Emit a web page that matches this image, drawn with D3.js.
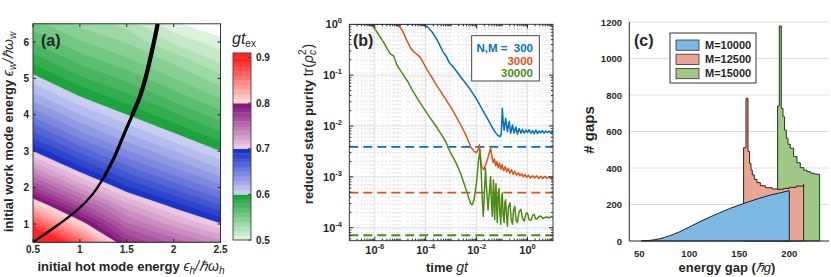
<!DOCTYPE html>
<html>
<head>
<meta charset="utf-8">
<script src="https://cdn.jsdelivr.net/npm/d3@7"></script>
<style>
  body { margin: 0; background: #fff; }
  svg { display: block; }
  text { font-family: "Liberation Sans", Arial, sans-serif; fill: #262626; }
</style>
</head>
<body>
<svg id="fig" width="831" height="277"></svg>
<script>
// ---------------- data: panel (a) ----------------
// gt_ex, rows = work-mode energy, columns = hot-mode energy
const hotEnergy = [0.5, 1.0, 1.5, 2.0, 2.5];
const workEnergy = [0.5, 1.0, 1.5, 2.0, 2.5, 3.0, 3.5, 4.0, 4.5, 5.0, 5.5, 6.0, 6.5];
const gtEx = [
  [0.946, 0.866, 0.781, 0.757, 0.733],
  [0.875, 0.808, 0.752, 0.725, 0.701],
  [0.818, 0.766, 0.724, 0.696, 0.671],
  [0.772, 0.728, 0.692, 0.667, 0.644],
  [0.733, 0.695, 0.665, 0.642, 0.621],
  [0.700, 0.667, 0.641, 0.620, 0.600],
  [0.672, 0.642, 0.619, 0.600, 0.581],
  [0.647, 0.620, 0.600, 0.582, 0.564],
  [0.624, 0.600, 0.583, 0.565, 0.548],
  [0.604, 0.582, 0.567, 0.550, 0.534],
  [0.586, 0.566, 0.552, 0.537, 0.517],
  [0.569, 0.551, 0.539, 0.518, 0.504],
  [0.554, 0.537, 0.526, 0.502, 0.489]
];
// black curve
const curveHot  = [0.5, 0.78, 0.98, 1.13, 1.26, 1.37, 1.46, 1.56, 1.64, 1.70, 1.79, 1.83];
const curveWork = [0.5, 1.0, 1.4, 1.8, 2.3, 2.85, 3.4, 4.0, 4.5, 5.0, 6.0, 6.5];
const hotTicks = [0.5, 1, 1.5, 2, 2.5];
const workTicks = [1, 2, 3, 4, 5, 6];
const cbTicks = [0.5, 0.6, 0.7, 0.8, 0.9];

// ---------------- data: panel (b) ----------------
// [log10 gt, log10 purity]
const purityN300 = [
  [-7, 0], [-4.3, 0], [-4.1, -0.01], [-3.95, -0.04], [-3.75, -0.15], [-3.55, -0.31], [-3.4, -0.46],
  [-3.3, -0.56], [-3.2, -0.62], [-3.09, -0.74], [-2.9, -0.85], [-2.63, -1.03], [-2.4, -1.18],
  [-2.24, -1.29], [-2.0, -1.47], [-1.84, -1.62], [-1.6, -1.83], [-1.45, -1.97], [-1.3, -2.1],
  [-1.18, -2.18], [-1.08, -2.21], [-1.03, -2.16], [-0.99, -1.65], [-0.96, -1.9], [-0.92, -2.08],
  [-0.86, -1.85], [-0.79, -2.11], [-0.72, -1.91], [-0.66, -2.14], [-0.59, -1.98], [-0.53, -2.14],
  [-0.46, -2.02], [-0.40, -2.16], [-0.33, -2.05], [-0.26, -2.14], [-0.2, -2.07], [-0.13, -2.14],
  [-0.06, -2.08], [0, -2.13], [0.06, -2.07], [0.13, -2.14], [0.2, -2.09], [0.26, -2.15],
  [0.33, -2.08], [0.39, -2.15], [0.46, -2.1], [0.52, -2.13], [0.58, -2.09], [0.65, -2.14],
  [0.72, -2.1], [0.79, -2.13], [0.86, -2.1], [0.92, -2.14], [0.98, -2.11], [1.04, -2.12]
];
const purityN3000 = [
  [-7, 0], [-5.2, 0], [-5.0, -0.06], [-4.87, -0.17], [-4.73, -0.33], [-4.6, -0.46], [-4.47, -0.54],
  [-4.34, -0.59], [-4.21, -0.65], [-4.08, -0.77], [-3.94, -0.9], [-3.81, -1.0], [-3.62, -1.16],
  [-3.4, -1.33], [-3.22, -1.47], [-3.0, -1.64], [-2.83, -1.79], [-2.6, -2.0], [-2.4, -2.2],
  [-2.24, -2.4], [-2.1, -2.5], [-2.0, -2.52], [-1.93, -2.45], [-1.89, -2.37], [-1.86, -2.55],
  [-1.8, -2.8], [-1.72, -2.86], [-1.6, -2.7], [-1.5, -2.52], [-1.45, -2.44], [-1.4, -2.6],
  [-1.35, -2.72], [-1.3, -2.65], [-1.25, -2.78], [-1.2, -2.7], [-1.15, -2.82], [-1.1, -2.73],
  [-1.05, -2.85], [-1.0, -2.76], [-0.94, -2.88], [-0.88, -2.8], [-0.82, -2.9], [-0.76, -2.83],
  [-0.7, -2.93], [-0.63, -2.86], [-0.56, -2.95], [-0.5, -2.89], [-0.43, -2.97], [-0.36, -2.92],
  [-0.3, -2.98], [-0.23, -2.94], [-0.16, -3.0], [-0.1, -2.95], [-0.03, -3.01], [0.04, -2.97],
  [0.12, -3.02], [0.2, -2.98], [0.28, -3.02], [0.36, -2.98], [0.44, -3.03], [0.52, -2.99],
  [0.6, -3.03], [0.68, -2.99], [0.76, -3.03], [0.84, -3.0], [0.92, -3.03], [1.0, -3.0], [1.04, -3.02]
];
const purityN30000 = [
  [-7, 0], [-6.3, 0], [-6.1, -0.03], [-5.98, -0.1], [-5.85, -0.2], [-5.72, -0.3], [-5.6, -0.4],
  [-5.52, -0.48], [-5.39, -0.58], [-5.26, -0.62], [-5.13, -0.8], [-5.0, -0.9], [-4.87, -1.0],
  [-4.7, -1.13], [-4.54, -1.28], [-4.3, -1.48], [-4.08, -1.65], [-3.88, -1.8], [-3.6, -2.0],
  [-3.42, -2.14], [-3.22, -2.3], [-3.03, -2.52], [-2.83, -2.7], [-2.63, -2.93], [-2.5, -3.12],
  [-2.37, -3.32], [-2.24, -3.52], [-2.17, -3.55], [-2.1, -3.45], [-2.0, -3.1], [-1.93, -2.7],
  [-1.87, -2.47], [-1.82, -2.9], [-1.77, -3.5], [-1.74, -3.78], [-1.7, -3.4], [-1.65, -2.83],
  [-1.6, -3.3], [-1.55, -3.65], [-1.5, -3.3], [-1.45, -3.0], [-1.41, -3.6], [-1.38, -3.78],
  [-1.34, -3.06], [-1.31, -3.5], [-1.29, -3.84], [-1.26, -3.3], [-1.24, -3.13], [-1.21, -3.6],
  [-1.19, -3.9], [-1.16, -3.4], [-1.12, -3.23], [-1.09, -3.7], [-1.05, -3.93], [-1.02, -3.4],
  [-0.99, -3.32], [-0.96, -3.75], [-0.92, -3.9], [-0.89, -3.5], [-0.86, -3.45], [-0.82, -3.8],
  [-0.79, -3.97], [-0.75, -3.6], [-0.69, -3.51], [-0.64, -3.85], [-0.59, -3.93], [-0.55, -3.65],
  [-0.5, -3.58], [-0.45, -3.85], [-0.4, -3.9], [-0.33, -3.68], [-0.26, -3.64], [-0.2, -3.82],
  [-0.13, -3.87], [-0.06, -3.72], [0, -3.71], [0.06, -3.84], [0.13, -3.86], [0.2, -3.76],
  [0.26, -3.74], [0.32, -3.83], [0.39, -3.82], [0.45, -3.78], [0.52, -3.77], [0.6, -3.82],
  [0.68, -3.8], [0.76, -3.79], [0.84, -3.81], [0.92, -3.78], [1.0, -3.8], [1.04, -3.79]
];
const purityFloor = [3.9e-3, 4.9e-4, 7.1e-5];
const sizeLabels = ['N,M =  300', '3000', '30000'];
const timeTicks = [1e-6, 1e-4, 1e-2, 1];
const timeExp = [-6, -4, -2, 0];
const purityTicks = [1, 1e-1, 1e-2, 1e-3, 1e-4];
const purityExp = [0, -1, -2, -3, -4];

// ---------------- data: panel (c) ----------------
// [energy gap, # gaps]
const gapsM10000 = [
  [52, 0], [60, 3], [70, 12], [80, 28], [90, 50], [100, 77], [110, 104], [120, 130], [130, 154],
  [140, 177], [150, 197], [160, 216], [170, 234], [180, 250], [190, 263], [200, 276]
];
const gapsM12500 = [
  [154.3, 511], [156.7, 782], [158.7, 490], [160.3, 425], [161.7, 389], [163, 362], [165, 338],
  [167.7, 320], [171, 303], [176, 292], [182.7, 285], [188.3, 283], [194, 288], [200, 294],
  [207, 301], [214.3, 310], [214.3, 310]
];
const gapsM15000 = [
  [188.3, 740], [190, 1178], [192, 727], [193.7, 681], [195.3, 608], [197, 563], [198.7, 530],
  [201, 508], [204.3, 462], [207.7, 429], [211, 402], [214.5, 388], [217.7, 380], [221, 372],
  [224.3, 367], [227.5, 366], [230.3, 366], [230.3, 366]
];
const gapLabels = ['M=10000', 'M=12500', 'M=15000'];
const gapTicksX = [50, 100, 150, 200];
const gapTicksY = [0, 200, 400, 600, 800, 1000, 1200];

const svg = d3.select('#fig');

// ================= panel (a) =================
const xA = d3.scaleLinear().domain([0.5, 2.5]).range([33, 220.5]);
const yA = d3.scaleLinear().domain([0.5, 6.5]).range([242.2, 23.8]);
const gA = svg.append('g');
gA.append('clipPath').attr('id', 'clipA').append('rect')
  .attr('x', 33).attr('y', 23.8).attr('width', 187.5).attr('height', 218.4);

const segs = [['#dcf2dc', '#1ea43c'], ['#c9cdf2', '#1c34c6'], ['#ecc8e4', '#86177c'], ['#ffd6d6', '#ff2424']];
function bandColor(k) {
  const s = Math.min(3, Math.floor(k / 10));
  const t = k >= 40 ? 1 : (k % 10) / 9;
  return d3.interpolateRgb(segs[s][0], segs[s][1])(t);
}
const levels = d3.range(41).map(k => +(0.5 + 0.01 * k).toFixed(2));
const nx = hotEnergy.length, ny = workEnergy.length;
const contours = d3.contours().size([nx, ny]).thresholds(levels)(gtEx.flat());
const stepH = hotEnergy[1] - hotEnergy[0], stepW = workEnergy[1] - workEnergy[0];
const gridPath = d3.geoPath(d3.geoTransform({
  point(gx, gy) {
    this.stream.point(xA(hotEnergy[0] + (gx - 0.5) * stepH), yA(workEnergy[0] + (gy - 0.5) * stepW));
  }
}));
gA.append('g').attr('clip-path', 'url(#clipA)')
  .selectAll('path').data(contours).join('path')
  .attr('d', gridPath)
  .attr('fill', (d, i) => bandColor(i))
  .attr('stroke', (d, i) => bandColor(i))
  .attr('stroke-width', 0.4);

// black curve, thickening upwards
const curvePts = d3.zip(curveHot, curveWork);
const curveLine = d3.line().x(d => xA(d[0])).y(d => yA(d[1])).curve(d3.curveCatmullRom);
[[0, 2.2], [2, 3.2], [4, 4.2]].forEach(([from, w]) => {
  gA.append('path').attr('clip-path', 'url(#clipA)')
    .attr('d', curveLine(curvePts.filter(p => p[1] >= from)))
    .attr('fill', 'none').attr('stroke', '#000').attr('stroke-width', w);
});

// frame + ticks
gA.append('rect').attr('x', 33).attr('y', 23.8).attr('width', 187.5).attr('height', 218.4)
  .attr('fill', 'none').attr('stroke', '#262626').attr('stroke-width', 0.9);
hotTicks.forEach(v => {
  gA.append('line').attr('x1', xA(v)).attr('x2', xA(v)).attr('y1', 242.2).attr('y2', 239)
    .attr('stroke', '#262626');
  gA.append('line').attr('x1', xA(v)).attr('x2', xA(v)).attr('y1', 23.8).attr('y2', 27)
    .attr('stroke', '#262626');
  gA.append('text').attr('x', xA(v)).attr('y', 253).attr('text-anchor', 'middle')
    .attr('font-size', 10).attr('font-weight', 'bold').text(v);
});
workTicks.forEach(v => {
  gA.append('line').attr('x1', 33).attr('x2', 36).attr('y1', yA(v)).attr('y2', yA(v)).attr('stroke', '#262626');
  gA.append('line').attr('x1', 220.5).attr('x2', 217.5).attr('y1', yA(v)).attr('y2', yA(v)).attr('stroke', '#262626');
  gA.append('text').attr('x', 29).attr('y', yA(v) + 3.5).attr('text-anchor', 'end')
    .attr('font-size', 10).attr('font-weight', 'bold').text(v);
});
gA.append('text').attr('x', 41).attr('y', 46).attr('font-size', 16).attr('font-weight', 'bold').text('(a)');

const xtA = gA.append('text').attr('x', 131).attr('y', 271).attr('text-anchor', 'middle');
xtA.append('tspan').attr('font-size', 13).attr('font-weight', 'bold').text('initial hot mode energy ');
xtA.append('tspan').attr('font-size', 14).attr('font-style', 'italic').text('ϵ');
xtA.append('tspan').attr('font-size', 10).attr('font-style', 'italic').attr('dy', 3).text('h');
xtA.append('tspan').attr('font-size', 14).attr('font-style', 'italic').attr('dy', -3).text('/ℏω');
xtA.append('tspan').attr('font-size', 10).attr('font-style', 'italic').attr('dy', 3).text('h');

const ytA = gA.append('text').attr('transform', 'translate(12.5,132) rotate(-90)').attr('text-anchor', 'middle');
ytA.append('tspan').attr('font-size', 13).attr('font-weight', 'bold').text('initial work mode energy ');
ytA.append('tspan').attr('font-size', 14).attr('font-style', 'italic').text('ϵ');
ytA.append('tspan').attr('font-size', 10).attr('font-style', 'italic').attr('dy', 3).text('w');
ytA.append('tspan').attr('font-size', 14).attr('font-style', 'italic').attr('dy', -3).text('/ℏω');
ytA.append('tspan').attr('font-size', 10).attr('font-style', 'italic').attr('dy', 3).text('w');

// colorbar
const cbY = d3.scaleLinear().domain([0.5, 0.9]).range([240, 57.5]);
const gCb = gA.append('g');
gCb.selectAll('rect').data(levels).join('rect')
  .attr('x', 233).attr('width', 18)
  .attr('y', v => cbY(v + 0.01))
  .attr('height', v => cbY(v) - cbY(v + 0.01) + 0.3)
  .attr('fill', (v, i) => bandColor(i));
gA.append('rect').attr('x', 233).attr('y', cbY(0.91)).attr('width', 18).attr('height', cbY(0.5) - cbY(0.91))
  .attr('fill', 'none').attr('stroke', '#444').attr('stroke-width', 0.9);
cbTicks.forEach(v => {
  gA.append('line').attr('x1', 251).attr('x2', 248).attr('y1', cbY(v)).attr('y2', cbY(v)).attr('stroke', '#444');
  gA.append('text').attr('x', 256).attr('y', cbY(v) + 3.5).attr('font-size', 10)
    .attr('font-weight', 'bold').text(v.toFixed(1));
});
const cbT = gA.append('text').attr('x', 232).attr('y', 44);
cbT.append('tspan').attr('font-size', 16).attr('font-style', 'italic').text('gt');
cbT.append('tspan').attr('font-size', 10).attr('dy', 3).text('ex');

// ================= panel (b) =================
const xB = d3.scaleLog().domain([1e-7, 10]).range([349.3, 553]);
const yB = d3.scaleLog().domain([5.55e-5, 1]).range([240.7, 24.3]);
const gB = svg.append('g');
gB.append('clipPath').attr('id', 'clipB').append('rect')
  .attr('x', 349.3).attr('y', 24.3).attr('width', 203.7).attr('height', 216.4);

const gridB = gB.append('g');
const ticksXB = [];
for (let e = -7; e <= 0; e++) {
  for (let m = 1; m <= 9; m++) {
    const v = m * Math.pow(10, e);
    ticksXB.push({ v, major: m === 1 && e % 2 === 0 });
  }
}
const ticksYB = [];
for (let e = -5; e <= -1; e++) {
  for (let m = 1; m <= 9; m++) {
    const v = m * Math.pow(10, e);
    if (v >= 5.55e-5) ticksYB.push({ v, major: m === 1 });
  }
}
ticksXB.filter(t => t.v > 1e-7).forEach(t => {
  gridB.append('line').attr('x1', xB(t.v)).attr('x2', xB(t.v)).attr('y1', 24.3).attr('y2', 240.7)
    .attr('stroke', t.major ? '#dcdcdc' : '#d0d0d0').attr('stroke-width', t.major ? 0.9 : 0.8)
    .attr('stroke-dasharray', t.major ? null : '1,3');
});
ticksYB.forEach(t => {
  gridB.append('line').attr('y1', yB(t.v)).attr('y2', yB(t.v)).attr('x1', 349.3).attr('x2', 553)
    .attr('stroke', t.major ? '#dcdcdc' : '#d0d0d0').attr('stroke-width', t.major ? 0.9 : 0.8)
    .attr('stroke-dasharray', t.major ? null : '1,3');
});

const colorsB = ['#0072bd', '#d95319', '#4d8b16'];
purityFloor.forEach((v, i) => {
  gB.append('line').attr('x1', 349.3).attr('x2', 553).attr('y1', yB(v)).attr('y2', yB(v))
    .attr('stroke', colorsB[i]).attr('stroke-width', 1.8).attr('stroke-dasharray', '9,5');
});
const lineB = d3.line().x(d => xB(Math.pow(10, d[0]))).y(d => yB(Math.pow(10, d[1])));
[purityN300, purityN3000, purityN30000].forEach((s, i) => {
  gB.append('path').attr('clip-path', 'url(#clipB)').attr('d', lineB(s))
    .attr('fill', 'none').attr('stroke', colorsB[i]).attr('stroke-width', 1.5)
    .attr('stroke-linejoin', 'round');
});

gB.append('rect').attr('x', 349.3).attr('y', 24.3).attr('width', 203.7).attr('height', 216.4)
  .attr('fill', 'none').attr('stroke', '#262626').attr('stroke-width', 0.9);
ticksXB.filter(t => t.v > 1e-7).forEach(t => {
  const L = t.major ? 4 : 2;
  gB.append('line').attr('x1', xB(t.v)).attr('x2', xB(t.v)).attr('y1', 240.7).attr('y2', 240.7 - L).attr('stroke', '#262626');
  gB.append('line').attr('x1', xB(t.v)).attr('x2', xB(t.v)).attr('y1', 24.3).attr('y2', 24.3 + L).attr('stroke', '#262626');
});
ticksYB.forEach(t => {
  const L = t.major ? 4 : 2;
  gB.append('line').attr('y1', yB(t.v)).attr('y2', yB(t.v)).attr('x1', 349.3).attr('x2', 349.3 + L).attr('stroke', '#262626');
  gB.append('line').attr('y1', yB(t.v)).attr('y2', yB(t.v)).attr('x1', 553).attr('x2', 553 - L).attr('stroke', '#262626');
});
timeTicks.forEach((v, i) => {
  const t = gB.append('text').attr('x', xB(v)).attr('y', 254).attr('text-anchor', 'middle')
    .attr('font-weight', 'bold');
  t.append('tspan').attr('font-size', 11).text('10');
  t.append('tspan').attr('font-size', 7.5).attr('dy', -5).text(timeExp[i] === 0 ? '0' : '-' + (-timeExp[i]));
});
purityTicks.forEach((v, i) => {
  const t = gB.append('text').attr('x', 342).attr('y', yB(v) + 4).attr('text-anchor', 'end')
    .attr('font-weight', 'bold');
  t.append('tspan').attr('font-size', 11).text('10');
  t.append('tspan').attr('font-size', 7.5).attr('dy', -5).text(purityExp[i] === 0 ? '0' : '-' + (-purityExp[i]));
});
gB.append('text').attr('x', 353).attr('y', 46).attr('font-size', 16).attr('font-weight', 'bold').text('(b)');

// legend (b)
gB.append('rect').attr('x', 471.7).attr('y', 35.7).attr('width', 67.6).attr('height', 45.3)
  .attr('fill', '#fff').attr('stroke', '#333').attr('stroke-width', 0.9);
sizeLabels.forEach((s, i) => {
  gB.append('text').attr('x', 533).attr('y', 52.3 + i * 12.5).attr('text-anchor', 'end')
    .attr('font-size', 11.5).attr('font-weight', 'bold').style('fill', colorsB[i])
    .attr('xml:space', 'preserve').text(s);
});

const xtB = gB.append('text').attr('x', 447).attr('y', 272).attr('text-anchor', 'middle');
xtB.append('tspan').attr('font-size', 13).attr('font-weight', 'bold').text('time ');
xtB.append('tspan').attr('font-size', 14).attr('font-style', 'italic').text('gt');

const ytB = gB.append('text').attr('transform', 'translate(313,124) rotate(-90)').attr('text-anchor', 'middle');
ytB.append('tspan').attr('font-size', 13).attr('font-weight', 'bold').text('reduced state purity ');
ytB.append('tspan').attr('font-size', 14).text('tr(');
ytB.append('tspan').attr('font-size', 14).attr('font-style', 'italic').text('ρ');
ytB.append('tspan').attr('font-size', 10).attr('font-style', 'italic').attr('dy', 3).text('c');
ytB.append('tspan').attr('font-size', 10).attr('dx', -5).attr('dy', -10).text('2');
ytB.append('tspan').attr('font-size', 14).attr('dx', 1).attr('dy', 7).text(')');

// ================= panel (c) =================
const xC = d3.scaleLinear().domain([40, 240]).range([629.3, 829.3]);
const yC = d3.scaleLinear().domain([0, 1200]).range([241, 22]);
const gC = svg.append('g');
gapTicksY.filter(v => v > 0).forEach(v => {
  gC.append('line').attr('x1', 629.3).attr('x2', 829).attr('y1', yC(v)).attr('y2', yC(v))
    .attr('stroke', '#dedede').attr('stroke-width', 1);
});
const areaStep = d3.area().x(d => xC(d[0])).y0(yC(0)).y1(d => yC(d[1])).curve(d3.curveStepAfter);
const areaSmooth = d3.area().x(d => xC(d[0])).y0(yC(0)).y1(d => yC(d[1])).curve(d3.curveMonotoneX);
const fillC = ['#7db8e3', '#e8a695', '#9fc788'];
const edgeC = ['#1a1f24', '#3b1d14', '#1f3a12'];
gC.append('path').attr('d', areaStep(gapsM15000)).attr('fill', fillC[2]).attr('stroke', edgeC[2]).attr('stroke-width', 1);
gC.append('path').attr('d', areaStep(gapsM12500)).attr('fill', fillC[1]).attr('stroke', edgeC[1]).attr('stroke-width', 1);
gC.append('path').attr('d', areaSmooth(gapsM10000)).attr('fill', fillC[0]).attr('stroke', edgeC[0]).attr('stroke-width', 1);

gC.append('line').attr('x1', 629.3).attr('x2', 629.3).attr('y1', 22).attr('y2', 241).attr('stroke', '#262626');
gC.append('line').attr('x1', 629.3).attr('x2', 829).attr('y1', 241).attr('y2', 241).attr('stroke', '#262626');
gapTicksY.forEach(v => {
  gC.append('text').attr('x', 622).attr('y', yC(v) + 3.5).attr('text-anchor', 'end')
    .attr('font-size', 9.5).attr('font-weight', 'bold').text(v);
});
gapTicksX.forEach(v => {
  gC.append('text').attr('x', xC(v)).attr('y', 257).attr('text-anchor', 'middle')
    .attr('font-size', 9.5).attr('font-weight', 'bold').text(v);
});
gC.append('text').attr('x', 634).attr('y', 46).attr('font-size', 16).attr('font-weight', 'bold').text('(c)');

gC.append('rect').attr('x', 670).attr('y', 33).attr('width', 86).attr('height', 50)
  .attr('fill', '#fff').attr('stroke', '#333').attr('stroke-width', 1);
gapLabels.forEach((s, i) => {
  const y0 = 40 + i * 14.2;
  gC.append('rect').attr('x', 676).attr('y', y0).attr('width', 23).attr('height', 10.3)
    .attr('fill', fillC[i]).attr('stroke', '#333').attr('stroke-width', 0.8);
  gC.append('text').attr('x', 705).attr('y', y0 + 9).attr('font-size', 11).attr('font-weight', 'bold').text(s);
});

const xtC = gC.append('text').attr('x', 727).attr('y', 272).attr('text-anchor', 'middle');
xtC.append('tspan').attr('font-size', 13).attr('font-weight', 'bold').text('energy gap (');
xtC.append('tspan').attr('font-size', 13).attr('font-style', 'italic').text('ℏg');
xtC.append('tspan').attr('font-size', 13).attr('font-weight', 'bold').text(')');

gC.append('text').attr('transform', 'translate(594,130) rotate(-90)').attr('text-anchor', 'middle')
  .attr('font-size', 15).attr('font-weight', 'bold').text('# gaps');
</script>
</body>
</html>
